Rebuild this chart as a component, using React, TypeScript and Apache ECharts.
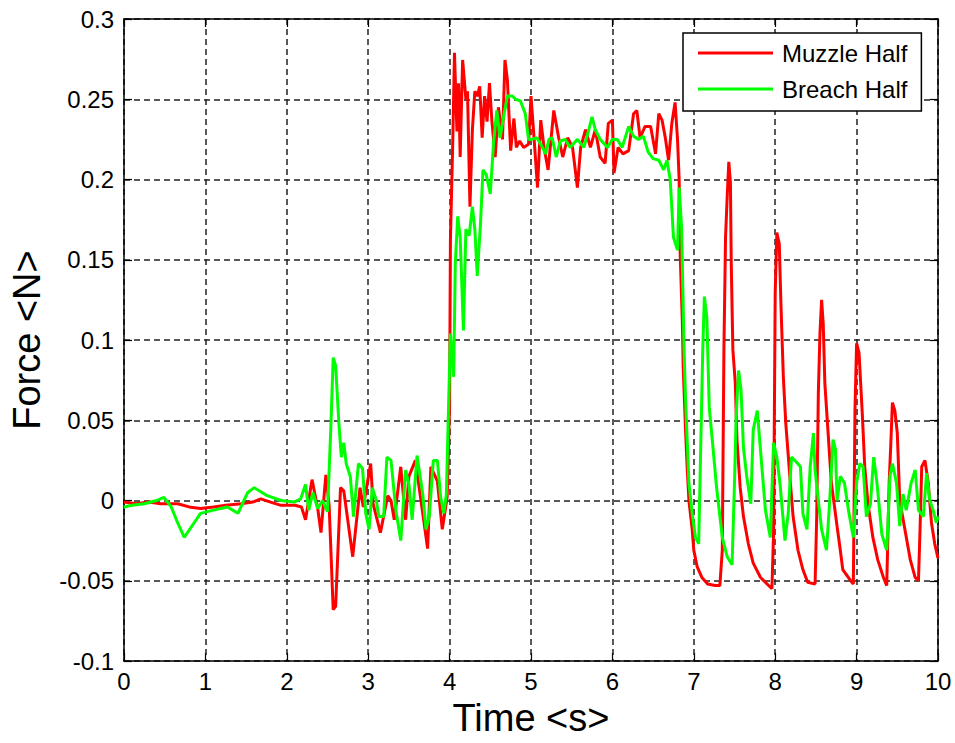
import React, { useEffect, useRef } from "react";
import * as echarts from "echarts";

const muzzleTime = [
  0, 0.15, 0.3, 0.45, 0.66, 0.8, 0.94, 1.1, 1.25, 1.44, 1.58, 1.68, 1.8, 1.93, 2.1, 2.18,
  2.23, 2.31, 2.38, 2.42, 2.48, 2.52, 2.57, 2.6, 2.66, 2.7, 2.81, 2.9, 2.94, 3.03, 3.06,
  3.15, 3.24, 3.28, 3.32, 3.4, 3.46, 3.5, 3.58, 3.73, 3.77, 3.85, 3.91, 3.97, 4.0, 4.01,
  4.04, 4.06, 4.09, 4.11, 4.13, 4.16, 4.2, 4.22, 4.25, 4.28, 4.31, 4.34, 4.37, 4.4, 4.43,
  4.46, 4.49, 4.52, 4.56, 4.6, 4.65, 4.68, 4.71, 4.75, 4.79, 4.82, 4.86, 4.91, 4.97, 5.0,
  5.04, 5.08, 5.12, 5.16, 5.21, 5.28, 5.34, 5.39, 5.45, 5.51, 5.57, 5.61, 5.67, 5.73, 5.79,
  5.85, 5.91, 5.95, 6.0, 6.02, 6.07, 6.13, 6.2, 6.26, 6.3, 6.34, 6.4, 6.47, 6.53, 6.57,
  6.61, 6.65, 6.69, 6.73, 6.77, 6.8, 6.82, 6.83, 6.86, 6.87, 6.9, 6.92, 6.94, 6.98, 7.0,
  7.04, 7.1, 7.17, 7.26, 7.32, 7.35, 7.37, 7.39, 7.41, 7.43, 7.45, 7.46, 7.48, 7.51, 7.53,
  7.57, 7.61, 7.67, 7.73, 7.82, 7.9, 7.96, 7.98, 8.0, 8.02, 8.05, 8.07, 8.1, 8.13, 8.18,
  8.22, 8.28, 8.34, 8.4, 8.49, 8.51, 8.53, 8.55, 8.57, 8.59, 8.61, 8.65, 8.69, 8.76, 8.8,
  8.83, 8.92, 8.96, 8.98, 9.0, 9.03, 9.07, 9.1, 9.14, 9.2, 9.26, 9.33, 9.37, 9.4, 9.42,
  9.44, 9.47, 9.5, 9.53, 9.6, 9.66, 9.72, 9.76, 9.78, 9.8, 9.84, 9.88, 9.92, 9.96, 10.0,
];
const muzzleForce = [
  -0.001, -0.002, -0.001, -0.002, -0.002, -0.004, -0.005, -0.004, -0.003, -0.002, -0.001,
  0.001, -0.001, -0.003, -0.003, -0.004,
  -0.012, 0.013, -0.005, -0.02, 0.016, -0.003, -0.068, -0.066, 0.008, 0.006, -0.035, 0.008,
  -0.004, 0.023, -0.002, -0.02, 0.003, 0.0, -0.012, 0.021, -0.012, 0.015, 0.025, -0.03,
  0.021, 0.012, -0.018, 0.002, 0.06, 0.162,
  0.226, 0.279, 0.23, 0.26, 0.214, 0.2745, 0.25, 0.255, 0.183, 0.231, 0.255, 0.252, 0.258,
  0.226, 0.252, 0.236, 0.26, 0.236, 0.214, 0.245, 0.225, 0.2745, 0.262, 0.218, 0.238, 0.22,
  0.224, 0.22, 0.222, 0.252, 0.224, 0.195, 0.237, 0.22, 0.206, 0.243, 0.226, 0.214, 0.226,
  0.22, 0.195, 0.22, 0.231, 0.22, 0.231, 0.214, 0.21, 0.235, 0.237, 0.204, 0.22, 0.216,
  0.218, 0.241, 0.243, 0.226, 0.233, 0.233, 0.216, 0.241, 0.237, 0.226, 0.212, 0.235, 0.248,
  0.225, 0.2, 0.158, 0.11, 0.083, 0.042, 0.019, 0.0, -0.018, -0.031,
  -0.041, -0.048, -0.052, -0.053, -0.053, -0.031, 0.094, 0.164, 0.189, 0.211, 0.198, 0.148,
  0.094, 0.073, 0.038, 0.008, -0.01, -0.027, -0.039, -0.048, -0.052, -0.055, -0.02, 0.129,
  0.167, 0.16, 0.123, 0.077, 0.048, 0.015, -0.01, -0.031, -0.043, -0.051, -0.052, -0.01,
  0.067, 0.104, 0.125, 0.11, 0.073, 0.042, 0.011, -0.016, -0.031, -0.043, -0.0495, -0.052,
  0.056, 0.098, 0.092, 0.054, 0.021, -0.002, -0.023, -0.037, -0.048, -0.053, 0.011, 0.035,
  0.061, 0.056, 0.042, 0.0, -0.02, -0.037, -0.048, -0.05, -0.017, 0.021, 0.025, 0.011,
  -0.014, -0.027, -0.036,
];

const breachTime = [
  0, 0.1, 0.25, 0.4, 0.49, 0.58, 0.66, 0.74, 0.86, 0.94, 1.1, 1.27, 1.4, 1.52, 1.6, 1.76,
  1.93, 2.09, 2.17, 2.23, 2.27, 2.32, 2.38, 2.44, 2.5, 2.54, 2.57, 2.6, 2.64, 2.67, 2.7,
  2.73, 2.78, 2.82, 2.88, 2.93, 2.97, 3.01, 3.05, 3.1, 3.13, 3.19, 3.23, 3.28, 3.34, 3.4,
  3.46, 3.5, 3.54, 3.6, 3.67, 3.71, 3.75, 3.8, 3.85, 3.89, 3.93, 3.96, 3.99, 4.01, 4.05,
  4.07, 4.1, 4.13, 4.17, 4.2, 4.24, 4.28, 4.31, 4.34, 4.38, 4.41, 4.45, 4.5, 4.54, 4.58,
  4.62, 4.67, 4.71, 4.77, 4.81, 4.87, 4.93, 4.97, 5.01, 5.07, 5.12, 5.18, 5.22, 5.26, 5.31,
  5.36, 5.42, 5.48, 5.57, 5.65, 5.71, 5.75, 5.79, 5.85, 5.94, 6.0, 6.06, 6.12, 6.2, 6.26,
  6.32, 6.38, 6.44, 6.5, 6.57, 6.63, 6.67, 6.71, 6.75, 6.8, 6.82, 6.85, 6.87, 6.88, 6.9,
  6.92, 6.94, 6.98, 7.02, 7.06, 7.08, 7.11, 7.13, 7.16, 7.19, 7.23, 7.28, 7.35, 7.41, 7.47,
  7.5, 7.52, 7.55, 7.58, 7.61, 7.65, 7.7, 7.73, 7.78, 7.82, 7.88, 7.94, 7.98, 8.02, 8.06,
  8.12, 8.16, 8.2, 8.26, 8.31, 8.34, 8.39, 8.43, 8.47, 8.49, 8.53, 8.57, 8.63, 8.67, 8.71,
  8.74, 8.76, 8.8, 8.85, 8.9, 8.96, 9.0, 9.04, 9.08, 9.12, 9.17, 9.21, 9.25, 9.31, 9.37,
  9.41, 9.44, 9.49, 9.53, 9.57, 9.61, 9.67, 9.72, 9.76, 9.82, 9.86, 9.9, 9.94, 9.98, 10.0,
];
const breachForce = [
  -0.004, -0.003, -0.002, 0.0, 0.002, -0.004, -0.014, -0.023, -0.014, -0.008, -0.006, -0.004,
  -0.008, 0.005, 0.008, 0.003, 0.0, -0.001, 0.001, 0.01, -0.006, 0.005, -0.005, 0.0, -0.007,
  0.044, 0.089, 0.084, 0.048, 0.027, 0.036, 0.023, 0.015, -0.01, 0.023, 0.02, -0.008, -0.018,
  0.008, 0.0, -0.01, -0.01, 0.027, 0.025, -0.006, -0.025, 0.019, 0.01, -0.012, 0.028, 0.004,
  -0.018, -0.01, 0.025, 0.025, 0.002, -0.008, 0.004, 0.064, 0.104, 0.077,
  0.148, 0.177, 0.164, 0.106, 0.169, 0.165, 0.183, 0.169, 0.14, 0.173, 0.206, 0.203, 0.191,
  0.223, 0.243, 0.226, 0.241, 0.252, 0.252, 0.25, 0.249, 0.241, 0.225, 0.225, 0.226, 0.222,
  0.216, 0.225, 0.226, 0.214, 0.224, 0.225, 0.22, 0.225, 0.22, 0.231, 0.239, 0.231, 0.225,
  0.22, 0.225, 0.225, 0.22, 0.233, 0.227, 0.225, 0.227, 0.217, 0.213, 0.212, 0.206, 0.212,
  0.2, 0.164, 0.156, 0.195, 0.17, 0.12, 0.094, 0.061,
  0.036, 0.011, -0.008, -0.023, -0.027, 0.021, 0.094, 0.127, 0.114, 0.058, 0.036, 0.008,
  -0.023, -0.035, -0.04, 0.011, 0.052, 0.081, 0.069, 0.033, 0.015, -0.002, 0.044, 0.056,
  0.031, -0.006, -0.023, 0.036, 0.027, 0.01, -0.025, -0.008, 0.027, 0.024, 0.021, -0.008,
  -0.018, 0.021, 0.042, 0.019, 0.0, -0.018, -0.031, 0.0, 0.038, 0.032, 0.0, 0.015, 0.011,
  -0.006, -0.023, 0.011, 0.023, 0.021, -0.01, -0.002, 0.027, 0.011, -0.021, -0.031, 0.015,
  0.023, 0.011, -0.016, 0.004, -0.006, 0.011, 0.019, -0.006, -0.01, 0.017, 0.0, -0.006,
  -0.014, -0.01,
];

const seriesNames = ["Muzzle Half", "Breach Half"];
const seriesColors = ["#ff0000", "#00ff00"];
const xLabel = "Time <s>";
const yLabel = "Force <N>";

const FONT = "'Liberation Sans', Arial, Helvetica, sans-serif";

function zip(t: number[], v: number[]) {
  const n = Math.min(t.length, v.length);
  const out: number[][] = [];
  for (let i = 0; i < n; i++) out.push([t[i], v[i]]);
  return out;
}

export default function App() {
  const ref = useRef<HTMLDivElement>(null);
  useEffect(() => {
    if (!ref.current) return;
    const chart = echarts.init(ref.current, null, { renderer: "svg" });
    const tickLabel = (v: number) => String(parseFloat(v.toFixed(2)));
    const frameAxis = {
      axisLine: { show: true, onZero: false, lineStyle: { color: "#000", width: 1.5 } },
      axisTick: { show: true, inside: true, length: 8, lineStyle: { color: "#000", width: 1.2 } },
    };
    const dashed = { color: "#222", width: 1.5, type: [6, 4] };
    chart.setOption({
      animation: false,
      backgroundColor: "#ffffff",
      textStyle: { fontFamily: FONT },
      grid: { left: 123, right: 17, top: 19, bottom: 82, show: false },
      legend: {
        orient: "vertical",
        left: 683,
        top: 33,
        padding: [8, 14, 10, 15],
        itemGap: 12,
        itemWidth: 75,
        itemHeight: 3,
        icon: "rect",
        backgroundColor: "#ffffff",
        borderColor: "#000",
        borderWidth: 1.5,
        borderRadius: 0,
        textStyle: { fontFamily: FONT, fontSize: 24, color: "#000", padding: [0, 0, 0, 4] },
        data: seriesNames.map((n, i) => ({ name: n, icon: "rect", itemStyle: { color: seriesColors[i] } })),
      },
      xAxis: [
        {
          type: "value",
          min: 0,
          max: 10,
          interval: 1,
          position: "bottom",
          ...frameAxis,
          axisLabel: { color: "#000", fontSize: 24, fontFamily: FONT, margin: 8, formatter: tickLabel },
          splitLine: { show: true, lineStyle: dashed },
          name: xLabel,
          nameLocation: "middle",
          nameGap: 38,
          nameTextStyle: { color: "#000", fontSize: 38, fontFamily: FONT },
        },
        {
          type: "value",
          min: 0,
          max: 10,
          interval: 1,
          position: "top",
          ...frameAxis,
          axisLabel: { show: false },
          splitLine: { show: false },
        },
      ],
      yAxis: [
        {
          type: "value",
          min: -0.1,
          max: 0.3,
          interval: 0.05,
          position: "left",
          ...frameAxis,
          axisLabel: { color: "#000", fontSize: 24, fontFamily: FONT, margin: 10, formatter: tickLabel },
          splitLine: { show: true, lineStyle: dashed },
          name: yLabel,
          nameLocation: "middle",
          nameGap: 78,
          nameRotate: 90,
          nameTextStyle: { color: "#000", fontSize: 38, fontFamily: FONT },
        },
        {
          type: "value",
          min: -0.1,
          max: 0.3,
          interval: 0.05,
          position: "right",
          ...frameAxis,
          axisLabel: { show: false },
          splitLine: { show: false },
        },
      ],
      series: [
        {
          name: seriesNames[0],
          type: "line",
          data: zip(muzzleTime, muzzleForce),
          showSymbol: false,
          symbol: "none",
          color: seriesColors[0],
          lineStyle: { color: seriesColors[0], width: 3 },
          z: 3,
        },
        {
          name: seriesNames[1],
          type: "line",
          data: zip(breachTime, breachForce),
          showSymbol: false,
          symbol: "none",
          color: seriesColors[1],
          lineStyle: { color: seriesColors[1], width: 3 },
          z: 4,
        },
      ],
    });
    return () => chart.dispose();
  }, []);
  return (
    <div
      ref={ref}
      style={{ position: "fixed", left: 0, top: 0, width: 955, height: 743, background: "#fff" }}
    />
  );
}
